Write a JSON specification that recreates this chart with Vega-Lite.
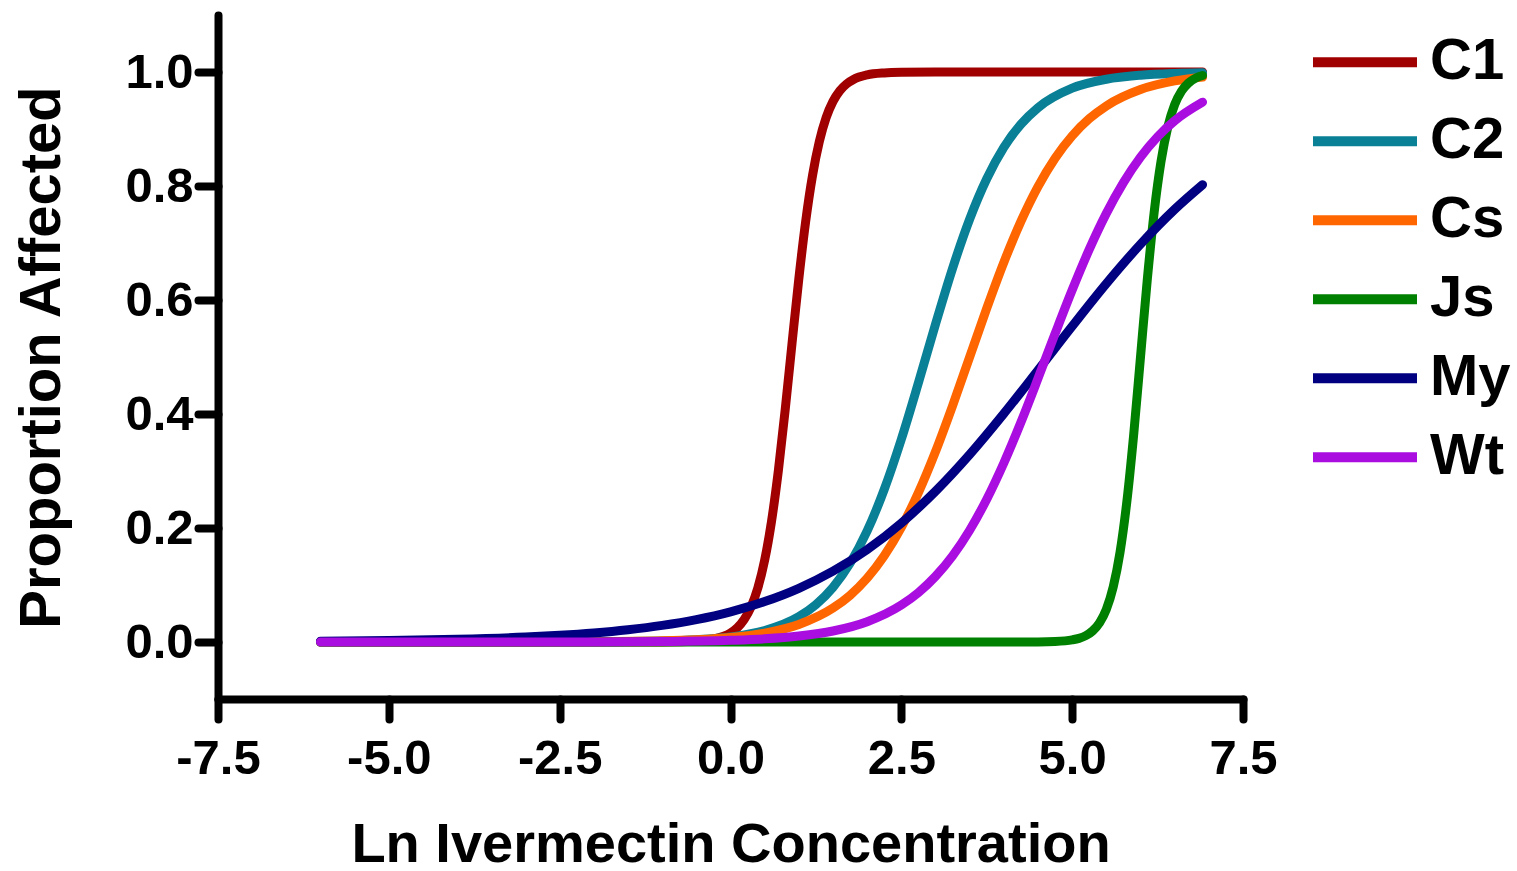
{
  "$schema": "https://vega.github.io/schema/vega-lite/v6.json",
  "autosize": {"type": "none"},
  "padding": {"left": 218, "top": 15, "right": 274, "bottom": 172},
  "width": 1025,
  "height": 684,
  "background": "white",
  "config": {
    "view": {"stroke": null},
    "font": "Liberation Sans",
    "axis": {
      "domainColor": "black", "domainWidth": 8, "domainCap": "round",
      "tickColor": "black", "tickWidth": 8, "tickCap": "round", "tickSize": 20,
      "grid": false,
      "labelFont": "Liberation Sans", "labelFontWeight": "bold", "labelFontSize": 49, "labelColor": "black",
      "titleFont": "Liberation Sans", "titleFontWeight": "bold", "titleFontSize": 56, "titleColor": "black",
      "labelOverlap": false, "labelFlush": false
    }
  },
  "data": {"values": [
    {"s":"C1","x":-6,"y":0},{"s":"C1","x":-4,"y":0},{"s":"C1","x":-2,"y":0},{"s":"C1","x":-1,"y":0.0001},{"s":"C1","x":-0.5,"y":0.0015},{"s":"C1","x":-0.25,"y":0.0049},{"s":"C1","x":0,"y":0.0157},{"s":"C1","x":0.1,"y":0.025},{"s":"C1","x":0.2,"y":0.0394},{"s":"C1","x":0.3,"y":0.0615},{"s":"C1","x":0.4,"y":0.0948},{"s":"C1","x":0.5,"y":0.1436},{"s":"C1","x":0.6,"y":0.2115},{"s":"C1","x":0.7,"y":0.3003},{"s":"C1","x":0.8,"y":0.4071},{"s":"C1","x":0.9,"y":0.5235},{"s":"C1","x":1.0,"y":0.6373},{"s":"C1","x":1.1,"y":0.7377},{"s":"C1","x":1.2,"y":0.8182},{"s":"C1","x":1.3,"y":0.878},{"s":"C1","x":1.4,"y":0.9201},{"s":"C1","x":1.5,"y":0.9485},{"s":"C1","x":1.6,"y":0.9672},{"s":"C1","x":1.7,"y":0.9792},{"s":"C1","x":1.8,"y":0.9869},{"s":"C1","x":2.0,"y":0.9949},{"s":"C1","x":2.25,"y":0.9984},{"s":"C1","x":2.5,"y":0.9995},{"s":"C1","x":3,"y":1},{"s":"C1","x":4,"y":1},{"s":"C1","x":5,"y":1},{"s":"C1","x":6,"y":1},{"s":"C1","x":6.908,"y":1},
    {"s":"C2","x":-6,"y":0},{"s":"C2","x":-5,"y":0},{"s":"C2","x":-4,"y":0},{"s":"C2","x":-3,"y":0.0001},{"s":"C2","x":-2,"y":0.0003},{"s":"C2","x":-1,"y":0.0017},{"s":"C2","x":-0.5,"y":0.0039},{"s":"C2","x":0,"y":0.0088},{"s":"C2","x":0.5,"y":0.02},{"s":"C2","x":1,"y":0.0444},{"s":"C2","x":1.25,"y":0.0656},{"s":"C2","x":1.5,"y":0.0959},{"s":"C2","x":1.75,"y":0.1381},{"s":"C2","x":2,"y":0.1948},{"s":"C2","x":2.25,"y":0.2677},{"s":"C2","x":2.5,"y":0.3557},{"s":"C2","x":2.75,"y":0.4547},{"s":"C2","x":3,"y":0.5575},{"s":"C2","x":3.25,"y":0.6556},{"s":"C2","x":3.5,"y":0.742},{"s":"C2","x":3.75,"y":0.8128},{"s":"C2","x":4,"y":0.8678},{"s":"C2","x":4.25,"y":0.9083},{"s":"C2","x":4.5,"y":0.9374},{"s":"C2","x":5,"y":0.9716},{"s":"C2","x":5.5,"y":0.9873},{"s":"C2","x":6,"y":0.9944},{"s":"C2","x":6.5,"y":0.9975},{"s":"C2","x":6.908,"y":0.9987},
    {"s":"Cs","x":-6,"y":0},{"s":"Cs","x":-5,"y":0},{"s":"Cs","x":-4,"y":0},{"s":"Cs","x":-3,"y":0.0001},{"s":"Cs","x":-2,"y":0.0005},{"s":"Cs","x":-1,"y":0.002},{"s":"Cs","x":-0.5,"y":0.004},{"s":"Cs","x":0,"y":0.0079},{"s":"Cs","x":0.5,"y":0.0157},{"s":"Cs","x":1,"y":0.0308},{"s":"Cs","x":1.5,"y":0.0595},{"s":"Cs","x":1.75,"y":0.082},{"s":"Cs","x":2,"y":0.112},{"s":"Cs","x":2.25,"y":0.1512},{"s":"Cs","x":2.5,"y":0.201},{"s":"Cs","x":2.75,"y":0.2621},{"s":"Cs","x":3,"y":0.334},{"s":"Cs","x":3.25,"y":0.4146},{"s":"Cs","x":3.5,"y":0.5},{"s":"Cs","x":3.75,"y":0.5854},{"s":"Cs","x":4,"y":0.666},{"s":"Cs","x":4.25,"y":0.7379},{"s":"Cs","x":4.5,"y":0.799},{"s":"Cs","x":4.75,"y":0.8488},{"s":"Cs","x":5,"y":0.888},{"s":"Cs","x":5.25,"y":0.918},{"s":"Cs","x":5.5,"y":0.9405},{"s":"Cs","x":6,"y":0.9692},{"s":"Cs","x":6.5,"y":0.9843},{"s":"Cs","x":6.908,"y":0.991},
    {"s":"Js","x":-6,"y":0},{"s":"Js","x":-4,"y":0},{"s":"Js","x":-2,"y":0},{"s":"Js","x":0,"y":0},{"s":"Js","x":2,"y":0},{"s":"Js","x":3,"y":0},{"s":"Js","x":4,"y":0},{"s":"Js","x":4.5,"y":0.0002},{"s":"Js","x":4.75,"y":0.0009},{"s":"Js","x":5,"y":0.0037},{"s":"Js","x":5.1,"y":0.0064},{"s":"Js","x":5.2,"y":0.0112},{"s":"Js","x":5.3,"y":0.0195},{"s":"Js","x":5.4,"y":0.0336},{"s":"Js","x":5.5,"y":0.0573},{"s":"Js","x":5.6,"y":0.0962},{"s":"Js","x":5.7,"y":0.1571},{"s":"Js","x":5.8,"y":0.246},{"s":"Js","x":5.9,"y":0.3635},{"s":"Js","x":6.0,"y":0.5},{"s":"Js","x":6.1,"y":0.6365},{"s":"Js","x":6.2,"y":0.754},{"s":"Js","x":6.3,"y":0.8429},{"s":"Js","x":6.4,"y":0.9038},{"s":"Js","x":6.5,"y":0.9427},{"s":"Js","x":6.6,"y":0.9664},{"s":"Js","x":6.7,"y":0.9805},{"s":"Js","x":6.8,"y":0.9888},{"s":"Js","x":6.908,"y":0.9938},
    {"s":"My","x":-6,"y":0.0014},{"s":"My","x":-5,"y":0.0025},{"s":"My","x":-4,"y":0.0047},{"s":"My","x":-3,"y":0.0086},{"s":"My","x":-2.5,"y":0.0117},{"s":"My","x":-2,"y":0.0159},{"s":"My","x":-1.5,"y":0.0216},{"s":"My","x":-1,"y":0.0292},{"s":"My","x":-0.5,"y":0.0394},{"s":"My","x":0,"y":0.053},{"s":"My","x":0.5,"y":0.0709},{"s":"My","x":1,"y":0.0942},{"s":"My","x":1.5,"y":0.1242},{"s":"My","x":2,"y":0.162},{"s":"My","x":2.5,"y":0.2086},{"s":"My","x":3,"y":0.2644},{"s":"My","x":3.5,"y":0.3289},{"s":"My","x":4,"y":0.4006},{"s":"My","x":4.5,"y":0.4768},{"s":"My","x":5,"y":0.554},{"s":"My","x":5.5,"y":0.6288},{"s":"My","x":6,"y":0.6978},{"s":"My","x":6.5,"y":0.759},{"s":"My","x":6.908,"y":0.8022},
    {"s":"Wt","x":-6,"y":0},{"s":"Wt","x":-5,"y":0},{"s":"Wt","x":-4,"y":0},{"s":"Wt","x":-3,"y":0.0001},{"s":"Wt","x":-2,"y":0.0002},{"s":"Wt","x":-1,"y":0.0008},{"s":"Wt","x":0,"y":0.003},{"s":"Wt","x":0.5,"y":0.0055},{"s":"Wt","x":1,"y":0.0104},{"s":"Wt","x":1.5,"y":0.0193},{"s":"Wt","x":2,"y":0.0356},{"s":"Wt","x":2.5,"y":0.0648},{"s":"Wt","x":2.75,"y":0.0866},{"s":"Wt","x":3,"y":0.1151},{"s":"Wt","x":3.25,"y":0.1511},{"s":"Wt","x":3.5,"y":0.1961},{"s":"Wt","x":3.75,"y":0.2505},{"s":"Wt","x":4,"y":0.3141},{"s":"Wt","x":4.25,"y":0.3855},{"s":"Wt","x":4.5,"y":0.4623},{"s":"Wt","x":4.75,"y":0.5409},{"s":"Wt","x":5,"y":0.6175},{"s":"Wt","x":5.25,"y":0.6887},{"s":"Wt","x":5.5,"y":0.7519},{"s":"Wt","x":5.75,"y":0.8059},{"s":"Wt","x":6,"y":0.8506},{"s":"Wt","x":6.25,"y":0.8864},{"s":"Wt","x":6.5,"y":0.9144},{"s":"Wt","x":6.908,"y":0.947}
  ]},
  "mark": {"type": "line", "strokeWidth": 9, "strokeCap": "round", "strokeJoin": "round", "interpolate": "monotone"},
  "encoding": {
    "x": {
      "field": "x", "type": "quantitative",
      "scale": {"domain": [-7.5, 7.5], "nice": false, "zero": false},
      "axis": {
        "title": "Ln Ivermectin Concentration",
        "values": [-7.5, -5, -2.5, 0, 2.5, 5, 7.5],
        "format": ".1f",
        "labelExpr": "replace(datum.label, '\u2212', '-')",
        "labelPadding": 15,
        "titlePadding": 34
      }
    },
    "y": {
      "field": "y", "type": "quantitative",
      "scale": {"domain": [-0.1, 1.1], "nice": false, "zero": false},
      "axis": {
        "title": "Proportion Affected",
        "titleFontSize": 58,
        "values": [0, 0.2, 0.4, 0.6, 0.8, 1.0],
        "format": ".1f",
        "labelPadding": 5,
        "titlePadding": 53
      }
    },
    "color": {
      "field": "s", "type": "nominal",
      "scale": {
        "domain": ["C1", "C2", "Cs", "Js", "My", "Wt"],
        "range": ["#A00000", "#0A8096", "#FF6600", "#008000", "#000080", "#AA0DE0"]
      },
      "legend": {
        "title": null,
        "orient": "none",
        "legendX": 1090,
        "legendY": 8,
        "padding": 0,
        "symbolType": "stroke",
        "symbolSize": 10816,
        "symbolStrokeWidth": 10,
        "labelFont": "Liberation Sans",
        "labelFontWeight": "bold",
        "labelFontSize": 58,
        "labelColor": "black",
        "labelOffset": 8,
        "clipHeight": 78.5,
        "rowPadding": 0
      }
    },
    "order": {"field": "x", "type": "quantitative"}
  }
}
